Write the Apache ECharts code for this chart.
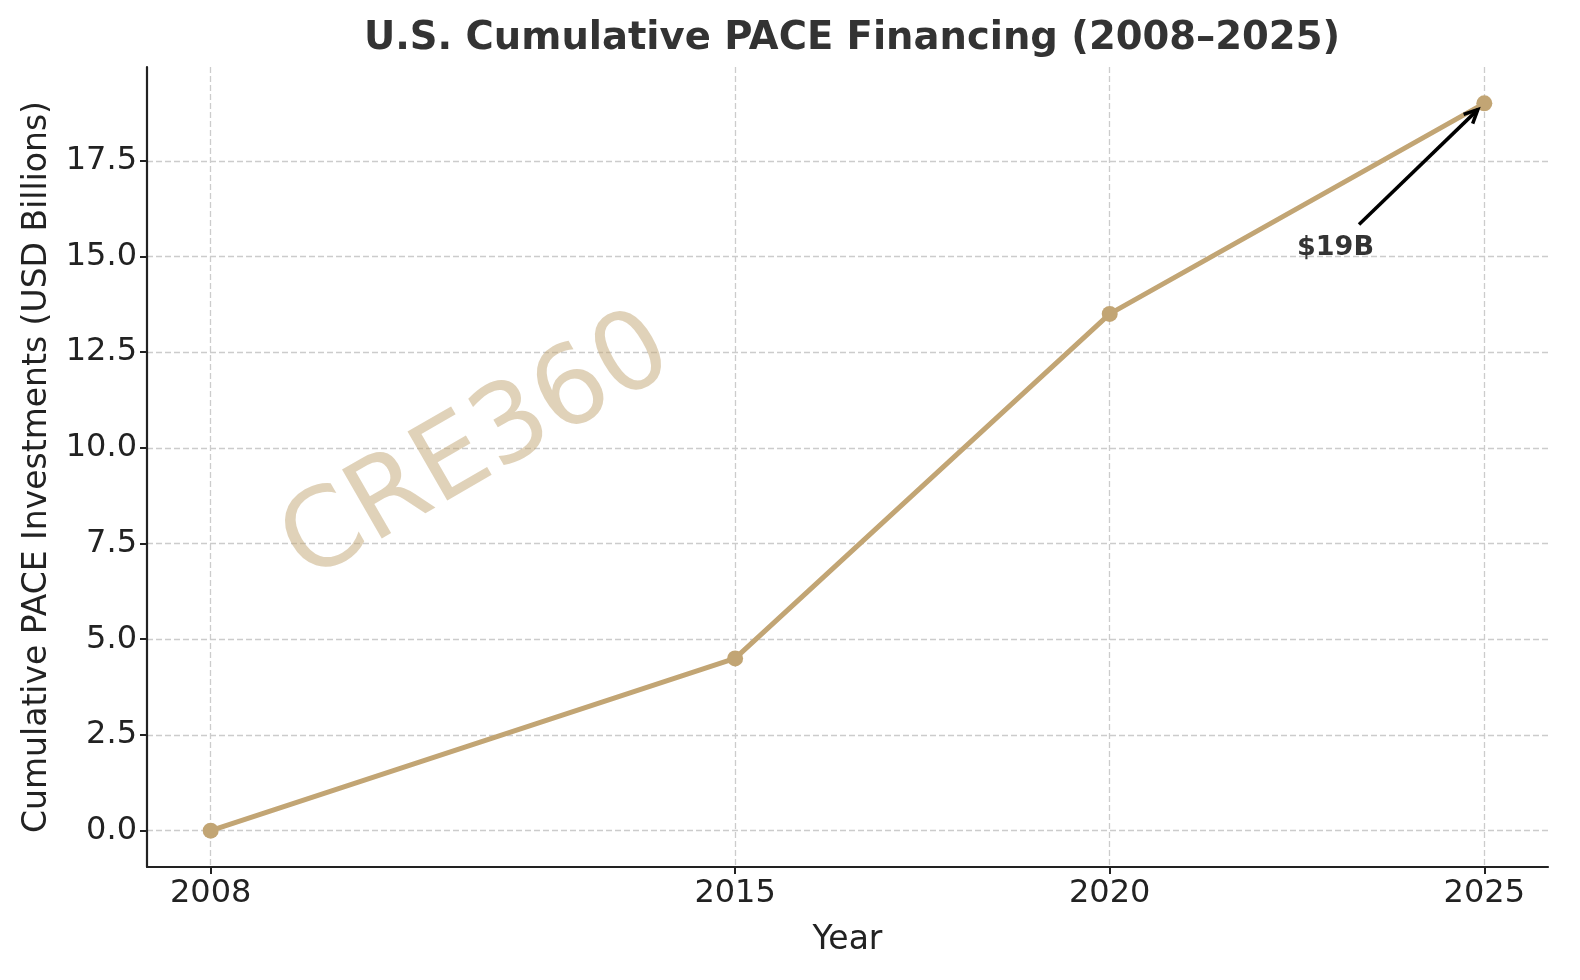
<!DOCTYPE html>
<html>
<head>
<meta charset="utf-8">
<script src="https://cdn.jsdelivr.net/npm/echarts@6/dist/echarts.min.js"></script>
<style>
html,body{margin:0;padding:0;background:#fff;}
#chart{width:1580px;height:980px;}
</style>
</head>
<body>
<div id="chart"></div>
<script>
const years = [2008, 2015, 2020, 2025];
const values = [0, 4.5, 13.5, 19];
const xTicks = [2008, 2015, 2020, 2025];
const yTicks = [0, 2.5, 5, 7.5, 10, 12.5, 15, 17.5];
const annotationText = '$19B';
const annotationTextAt = [2022.5, 15];
const annotationTarget = [2025, 19];

const lineColor = '#c2a574';
const axisColor = '#222222';
const font = 'DejaVu Sans';

const chart = echarts.init(document.getElementById('chart'));
const option = {
  backgroundColor: '#ffffff',
  animation: false,
  title: {
    text: 'U.S. Cumulative PACE Financing (2008–2025)',
    left: 847, top: 14, textAlign: 'center',
    textStyle: {fontFamily: font, fontSize: 38.5, fontWeight: 'bold', color: '#333333'}
  },
  grid: {left: 147, right: 32, top: 67, bottom: 113, containLabel: false},
  xAxis: {
    type: 'value', min: 2007.15, max: 2025.85,
    name: 'Year', nameLocation: 'middle', nameGap: 57,
    nameTextStyle: {fontFamily: font, fontSize: 33, color: axisColor},
    axisLine: {show: true, onZero: false, lineStyle: {color: axisColor, width: 2.2}},
    axisTick: {show: true, customValues: xTicks, length: 7, lineStyle: {color: axisColor, width: 2}},
    axisLabel: {customValues: xTicks, fontFamily: font, fontSize: 32, color: axisColor, margin: 11, formatter: v => String(v)},
    splitLine: {show: true, lineStyle: {color: '#cccccc', width: 1.3, type: [6, 3]}}
  },
  yAxis: {
    type: 'value', min: -0.95, max: 19.95,
    name: 'Cumulative PACE Investments (USD Billions)', nameLocation: 'middle', nameGap: 93,
    nameTextStyle: {fontFamily: font, fontSize: 33, color: axisColor},
    axisLine: {show: true, onZero: false, lineStyle: {color: axisColor, width: 2.2}},
    axisTick: {show: true, customValues: yTicks, length: 7, lineStyle: {color: axisColor, width: 2}},
    axisLabel: {customValues: yTicks, fontFamily: font, fontSize: 32, color: axisColor, margin: 10, formatter: v => v.toFixed(1)},
    splitLine: {show: true, lineStyle: {color: '#cccccc', width: 1.3, type: [6, 3]}}
  },
  series: [{
    type: 'line',
    data: years.map((y, i) => [y, values[i]]),
    lineStyle: {color: lineColor, width: 5},
    itemStyle: {color: lineColor},
    symbol: 'circle', symbolSize: 16, showSymbol: true,
    z: 5
  }]
};
chart.setOption(option);

function addGraphics() {
  const txt = chart.convertToPixel({gridIndex: 0}, annotationTextAt);
  const tgt = chart.convertToPixel({gridIndex: 0}, annotationTarget);
  const sx = txt[0] + 62, sy = txt[1] - 32;
  const dx = tgt[0] - sx, dy = tgt[1] - sy;
  const len = Math.sqrt(dx * dx + dy * dy);
  const ux = dx / len, uy = dy / len;
  const ex = tgt[0] - ux * 9, ey = tgt[1] - uy * 9;
  const ah = 15, aw = 0.45;
  const ca = Math.cos(aw), sa = Math.sin(aw);
  const b1 = [ex - ah * (ux * ca - uy * sa), ey - ah * (uy * ca + ux * sa)];
  const b2 = [ex - ah * (ux * ca + uy * sa), ey - ah * (uy * ca - ux * sa)];
  chart.setOption({
    graphic: [
      {
        type: 'text', z: 1, zlevel: 0,
        x: 478, y: 450, rotation: Math.PI / 6,
        style: {text: 'CRE360', fontFamily: font, fontSize: 109, fill: 'rgba(194,165,116,0.5)', align: 'center', verticalAlign: 'middle'},
        silent: true
      },
      {
        type: 'text', z: 10,
        x: txt[0], y: txt[1] + 5,
        style: {text: annotationText, fontFamily: font, fontSize: 27, fontWeight: 'bold', fill: '#333333', align: 'left', verticalAlign: 'bottom'}
      },
      {
        type: 'polyline', z: 10,
        shape: {points: [[sx, sy], [ex, ey]]},
        style: {stroke: '#000000', lineWidth: 3.5, fill: null}
      },
      {
        type: 'polyline', z: 10,
        shape: {points: [b1, [ex, ey], b2]},
        style: {stroke: '#000000', lineWidth: 3.5, fill: null, lineJoin: 'miter'}
      }
    ]
  });
}
addGraphics();
</script>
</body>
</html>
